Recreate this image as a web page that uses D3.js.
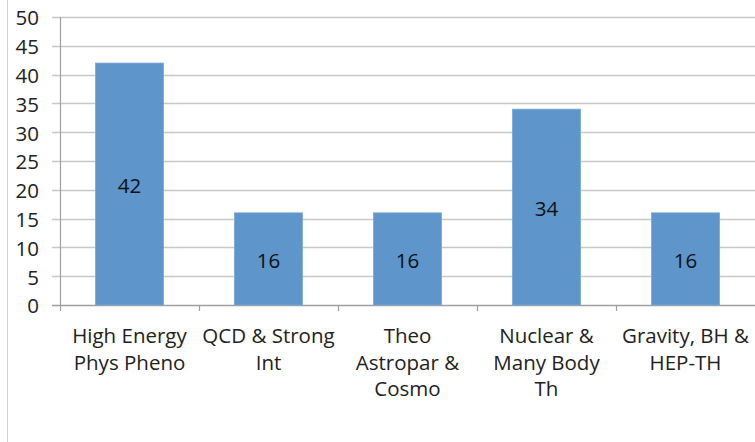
<!DOCTYPE html>
<html><head><meta charset="utf-8">
<script src="https://cdn.jsdelivr.net/npm/d3@7"></script>
<style>body{margin:0;background:#fff}svg{display:block}</style>
</head><body><svg id="c" width="755" height="442"></svg>
<script>
const categories = [["High Energy","Phys Pheno"],["QCD & Strong","Int"],["Theo","Astropar &","Cosmo"],["Nuclear &","Many Body","Th"],["Gravity, BH &","HEP-TH"]];
const values = [42,16,16,34,16];
const yTicks = [0,5,10,15,20,25,30,35,40,45,50];

const svg = d3.select("#c");
const font = "'Open Sans', sans-serif";
const fs = 20.5;
const x = d3.scaleBand().domain(d3.range(values.length)).range([60,755]).paddingInner(0.51).paddingOuter(0.255);
const y = d3.scaleLinear().domain([0,50]).range([305,17]);

svg.append("line").attr("x1",7.5).attr("x2",7.5).attr("y1",0).attr("y2",442).attr("stroke","#d0d0d0");

// gridlines
svg.append("g").selectAll("line").data(yTicks).join("line")
  .attr("x1",52).attr("x2",755).attr("y1",d=>Math.round(y(d))+0.5).attr("y2",d=>Math.round(y(d))+0.5)
  .attr("stroke",d=>d===0?"#a0a0a0":"#c8c8c8").attr("stroke-width",1.5);
// y axis line
svg.append("line").attr("x1",60.5).attr("x2",60.5).attr("y1",y(50)).attr("y2",y(0)+6).attr("stroke","#a0a0a0").attr("stroke-width",1.2);
// category ticks
const bounds = d3.range(values.length+1).map(i=>60+i*(695/values.length));
svg.append("g").selectAll("line").data(bounds.slice(1,-1)).join("line")
  .attr("x1",d=>Math.round(d)+0.5).attr("x2",d=>Math.round(d)+0.5).attr("y1",y(0)).attr("y2",y(0)+6)
  .attr("stroke","#a0a0a0").attr("stroke-width",1.2);

svg.append("g").selectAll("text").data(yTicks).join("text")
  .attr("x",39).attr("y",d=>y(d)+1).attr("dy","0.36em").attr("text-anchor","end")
  .attr("font-family",font).attr("font-size",fs).attr("fill","#222").text(d=>d);

svg.append("g").selectAll("rect").data(values).join("rect")
  .attr("x",(d,i)=>x(i)).attr("width",x.bandwidth()).attr("y",d=>y(d)).attr("height",d=>y(0)-y(d))
  .attr("fill","#5e95ca").attr("stroke","#7aa9d6").attr("stroke-width",0.8);

svg.append("g").selectAll("text").data(values).join("text")
  .attr("x",(d,i)=>x(i)+x.bandwidth()/2).attr("y",d=>y(d/2)+2).attr("dy","0.36em").attr("text-anchor","middle")
  .attr("font-family",font).attr("font-size",fs).attr("fill","#111").text(d=>d);

const lab = svg.append("g").selectAll("text").data(categories).join("text")
  .attr("text-anchor","middle").attr("font-family",font).attr("font-size",fs).attr("fill","#222");
lab.each(function(lines,i){
  const t=d3.select(this);
  lines.forEach((l,j)=>t.append("tspan").attr("x",x(i)+x.bandwidth()/2).attr("y",336+j*26.5).attr("dy","0.36em").text(l));
});
</script></body></html>
